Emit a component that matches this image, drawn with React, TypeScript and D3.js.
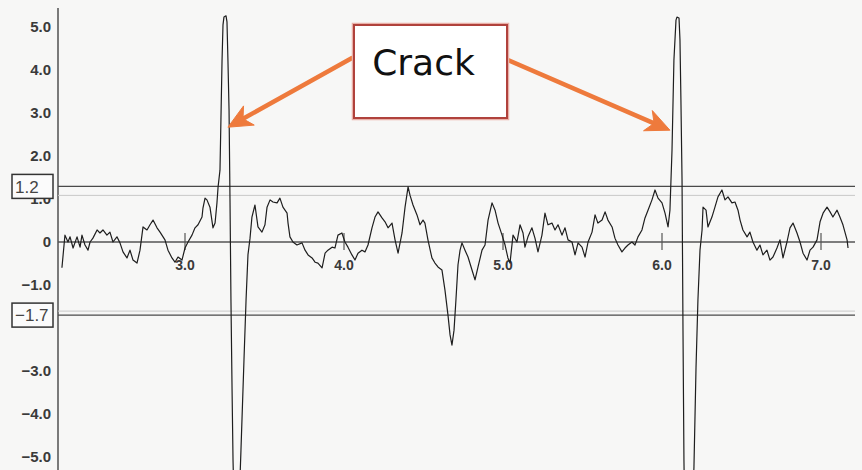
import React from "react";
import * as d3 from "d3";

// ---- data (x = position, y = signal) ----
const xs = [
  2.226, 2.245, 2.264, 2.277, 2.296, 2.321, 2.34, 2.352, 2.371, 2.39, 2.403, 2.421, 2.447, 2.465, 2.484, 2.509, 2.528, 2.547, 2.572, 2.591,
  2.61, 2.635, 2.654, 2.673, 2.698, 2.717, 2.736, 2.761, 2.78, 2.799, 2.824, 2.843, 2.874, 2.893, 2.918, 2.937, 2.956, 2.981, 3.0, 3.019,
  3.044, 3.063, 3.082, 3.107, 3.113, 3.126, 3.138, 3.157, 3.176, 3.189, 3.201, 3.208, 3.22, 3.226, 3.233, 3.239, 3.245, 3.258, 3.264, 3.27,
  3.277, 3.283, 3.289, 3.296, 3.302, 3.314, 3.327, 3.34, 3.352, 3.371, 3.384, 3.396, 3.409, 3.421, 3.44, 3.459, 3.484, 3.503, 3.516, 3.535,
  3.553, 3.579, 3.597, 3.616, 3.642, 3.648, 3.66, 3.679, 3.704, 3.736, 3.755, 3.774, 3.799, 3.818, 3.836, 3.862, 3.881, 3.899, 3.925, 3.943,
  3.962, 3.987, 4.006, 4.025, 4.05, 4.069, 4.088, 4.113, 4.132, 4.151, 4.176, 4.195, 4.214, 4.239, 4.258, 4.277, 4.302, 4.321, 4.34, 4.365,
  4.384, 4.403, 4.415, 4.434, 4.459, 4.478, 4.497, 4.509, 4.528, 4.553, 4.572, 4.591, 4.616, 4.635, 4.654, 4.667, 4.679, 4.692, 4.704, 4.717,
  4.73, 4.742, 4.761, 4.78, 4.805, 4.824, 4.843, 4.868, 4.887, 4.906, 4.931, 4.95, 4.969, 4.994, 5.013, 5.031, 5.044, 5.063, 5.088, 5.107,
  5.126, 5.138, 5.157, 5.182, 5.201, 5.22, 5.245, 5.264, 5.283, 5.308, 5.327, 5.346, 5.371, 5.39, 5.409, 5.434, 5.453, 5.472, 5.497, 5.516,
  5.535, 5.56, 5.579, 5.597, 5.623, 5.642, 5.66, 5.686, 5.704, 5.723, 5.748, 5.767, 5.786, 5.811, 5.83, 5.849, 5.874, 5.893, 5.912, 5.937,
  5.956, 5.975, 6.0, 6.019, 6.038, 6.05, 6.063, 6.075, 6.088, 6.094, 6.107, 6.113, 6.119, 6.126, 6.132, 6.138, 6.145, 6.164, 6.182, 6.201,
  6.214, 6.226, 6.239, 6.252, 6.258, 6.277, 6.289, 6.314, 6.333, 6.352, 6.377, 6.396, 6.415, 6.44, 6.459, 6.478, 6.491, 6.509, 6.535, 6.553,
  6.572, 6.597, 6.616, 6.635, 6.66, 6.679, 6.698, 6.723, 6.742, 6.761, 6.786, 6.805, 6.824, 6.849, 6.868, 6.887, 6.912, 6.931, 6.95, 6.975,
  6.994, 7.013, 7.038, 7.057, 7.075, 7.101, 7.119, 7.138, 7.164, 7.17,
];
const ys = [
  -0.6, 0.16, 0.0, 0.12, -0.14, 0.12, -0.12, 0.16, -0.07, -0.19, 0.0, 0.09, 0.28, 0.21, 0.28, 0.16, 0.23, 0.0, 0.12, -0.02,
  -0.23, -0.37, -0.19, -0.42, -0.49, -0.19, 0.35, 0.28, 0.4, 0.51, 0.33, 0.23, 0.05, -0.19, -0.37, -0.47, -0.35, -0.42, -0.14, 0.0,
  0.16, 0.33, 0.4, 0.58, 0.79, 1.02, 0.98, 0.81, 0.33, 0.44, 0.91, 1.28, 1.67, 2.84, 4.23, 5.05, 5.23, 5.26, 5.12, 4.23,
  3.07, 0.98, -1.35, -3.44, -5.07, -6.93, -7.05, -6.12, -4.84, -2.74, -1.35, -0.3, 0.09, 0.58, 0.86, 0.35, 0.23, 0.4, 0.81, 0.98,
  0.93, 0.91, 1.02, 0.81, 0.67, 0.44, 0.12, 0.0, -0.07, -0.02, -0.19, -0.3, -0.37, -0.47, -0.49, -0.6, -0.26, -0.19, -0.12, -0.14,
  0.16, 0.21, 0.0, -0.12, -0.3, -0.42, -0.26, -0.19, -0.23, -0.07, 0.33, 0.58, 0.7, 0.56, 0.47, 0.33, 0.44, 0.05, -0.26, 0.21,
  0.81, 1.28, 1.09, 0.86, 0.63, 0.4, 0.51, 0.44, 0.05, -0.37, -0.49, -0.58, -0.65, -1.12, -1.7, -2.16, -2.4, -2.05, -1.35, -0.53,
  -0.19, -0.02, -0.19, -0.35, -0.65, -0.88, -0.58, -0.19, -0.07, 0.51, 0.91, 0.74, 0.44, 0.16, -0.07, -0.37, -0.49, 0.16, 0.0, 0.4,
  0.21, -0.12, 0.12, 0.33, 0.09, -0.23, 0.16, 0.67, 0.4, 0.44, 0.28, 0.4, 0.16, 0.33, 0.05, 0.0, -0.3, -0.02, -0.12, -0.35,
  0.0, 0.23, 0.63, 0.44, 0.51, 0.7, 0.51, 0.35, 0.09, -0.07, -0.23, -0.14, -0.07, 0.0, -0.07, 0.12, 0.28, 0.56, 0.74, 0.98,
  1.21, 1.02, 0.91, 0.67, 0.35, 0.74, 2.14, 4.23, 5.16, 5.23, 5.21, 4.7, 3.3, 1.44, -2.05, -5.07, -6.93, -7.51, -7.4, -5.23,
  -2.91, -1.35, -0.19, 0.28, 0.81, 0.74, 0.35, 0.58, 0.81, 1.05, 1.21, 0.98, 1.05, 0.91, 0.93, 0.74, 0.51, 0.28, 0.12, 0.23,
  0.0, -0.19, -0.07, -0.3, -0.19, -0.42, -0.35, -0.14, 0.05, -0.37, 0.0, 0.33, 0.44, 0.21, 0.0, -0.26, -0.42, -0.19, -0.12, 0.05,
  0.47, 0.67, 0.81, 0.7, 0.58, 0.74, 0.58, 0.4, 0.05, -0.14,
];

const yTickValues = [5, 4, 3, 2, 1, 0, -1, -3, -4, -5];
const yTickLabels = ["5.0", "4.0", "3.0", "2.0", "1.0", "0", "\u22121.0", "\u22123.0", "\u22124.0", "\u22125.0"];
const xTickValues = [3, 4, 5, 6, 7];
const xTickLabels = ["3.0", "4.0", "5.0", "6.0", "7.0"];
const thresholdValues = [1.2, -1.7];
const thresholdLabels = ["1.2", "\u22121.7"];
const annotationText = "Crack";
const arrowTargetsX = [3.27, 6.05];
const arrowTargetsY = [2.67, 2.6];

const W = 862;
const H = 470;
const AXIS_X = 58;
const RIGHT = 855;
const ARROW = "#ee7a3c";

function arrowHead(x1: number, y1: number, x2: number, y2: number, len = 24, w = 11) {
  const a = Math.atan2(y2 - y1, x2 - x1);
  const c = Math.cos(a), s = Math.sin(a);
  const bx = x2 - len * c, by = y2 - len * s;
  const nx = x2 - 0.72 * len * c, ny = y2 - 0.72 * len * s;
  const lx = bx - w * s, ly = by + w * c;
  const rx = bx + w * s, ry = by - w * c;
  return { path: `M${x2},${y2}L${lx},${ly}L${nx},${ny}L${rx},${ry}Z`, nx, ny };
}

export default function App() {
  const x = d3.scaleLinear().domain([3, 7]).range([185, 821]);
  const y = d3.scaleLinear().domain([-5, 5]).range([457, 27]);
  const data = xs.map((v, i) => ({ x: v, y: ys[i] }));
  const line = d3
    .line<{ x: number; y: number }>()
    .x((d) => x(d.x))
    .y((d) => y(d.y));

  const box = { x: 354, y: 25, w: 153, h: 93 };
  const starts = [
    [box.x - 2, 58],
    [box.x + box.w + 1, 60],
  ];

  return (
    <svg width={W} height={H} style={{ position: "absolute", left: 0, top: 0, background: "#f7f7f6" }}>
      <rect x={0} y={0} width={W} height={H} fill="#f7f7f6" />
      {/* y axis */}
      <line x1={AXIS_X} x2={AXIS_X} y1={8} y2={H} stroke="#7a7a7a" strokeWidth={2} />
      {/* y tick labels */}
      {yTickValues.map((v, i) => (
        <text
          key={"yt" + i}
          x={51}
          y={y(v)}
          dy="0.36em"
          textAnchor="end"
          fontFamily="'Liberation Sans', Arial, sans-serif"
          fontWeight="bold"
          fontSize={15}
          fill="#3a3a3a"
        >
          {yTickLabels[i]}
        </text>
      ))}
      {/* zero line */}
      <line x1={AXIS_X} x2={RIGHT} y1={y(0)} y2={y(0)} stroke="#555" strokeWidth={1.3} />
      {/* threshold lines */}
      {thresholdValues.map((v, i) => {
        const off = v > 0 ? -4 : 0;
        return (
          <g key={"th" + i}>
            <line x1={AXIS_X} x2={RIGHT} y1={y(v) + (v > 0 ? 5 : -4)} y2={y(v) + (v > 0 ? 5 : -4)} stroke="#c9c9c9" strokeWidth={1} />
            <line x1={AXIS_X} x2={RIGHT} y1={y(v) + off} y2={y(v) + off} stroke="#4a4a4a" strokeWidth={1.3} />
            <rect x={12} y={y(v) + off - 12} width={41} height={24} fill="#fbfbfb" stroke="#333" strokeWidth={1.5} />
            <text
              x={15}
              y={y(v) + off}
              dy="0.36em"
              fontFamily="'Liberation Sans', Arial, sans-serif"
              fontSize={17}
              fill="#444"
            >
              {thresholdLabels[i]}
            </text>
          </g>
        );
      })}
      {/* x ticks and labels */}
      {xTickValues.map((v, i) => (
        <g key={"xt" + i}>
          <line x1={x(v)} x2={x(v)} y1={y(0) - 9} y2={y(0) + 8} stroke="#555" strokeWidth={1.2} />
          <text
            x={x(v)}
            y={y(0) + 28}
            textAnchor="middle"
            fontFamily="'Liberation Sans', Arial, sans-serif"
            fontWeight="bold"
            fontSize={14}
            fill="#3a3a3a"
          >
            {xTickLabels[i]}
          </text>
        </g>
      ))}
      {/* signal */}
      <path d={line(data) || ""} fill="none" stroke="#1e1e1e" strokeWidth={1.2} strokeLinejoin="round" />
      {/* arrows */}
      {arrowTargetsX.map((tx, i) => {
        const [sx, sy] = starts[i];
        const ex = x(tx), ey = y(arrowTargetsY[i]);
        const h = arrowHead(sx, sy, ex, ey);
        return (
          <g key={"ar" + i}>
            <line x1={sx} y1={sy} x2={h.nx} y2={h.ny} stroke={ARROW} strokeWidth={4.5} strokeLinecap="round" />
            <path d={h.path} fill={ARROW} stroke={ARROW} strokeWidth={1} strokeLinejoin="round" />
          </g>
        );
      })}
      {/* annotation box */}
      <rect x={box.x - 1.5} y={box.y - 1.5} width={box.w + 3} height={box.h + 3} fill="none" stroke="#e9b0a8" strokeWidth={1.5} />
      <rect x={box.x} y={box.y} width={box.w} height={box.h} fill="#ffffff" stroke="#b0423c" strokeWidth={2} />
      <text
        x={box.x + box.w / 2 - 7}
        y={75}
        textAnchor="middle"
        fontFamily="'DejaVu Sans', Verdana, sans-serif"
        fontSize={36}
        fill="#111"
      >
        {annotationText}
      </text>
    </svg>
  );
}
